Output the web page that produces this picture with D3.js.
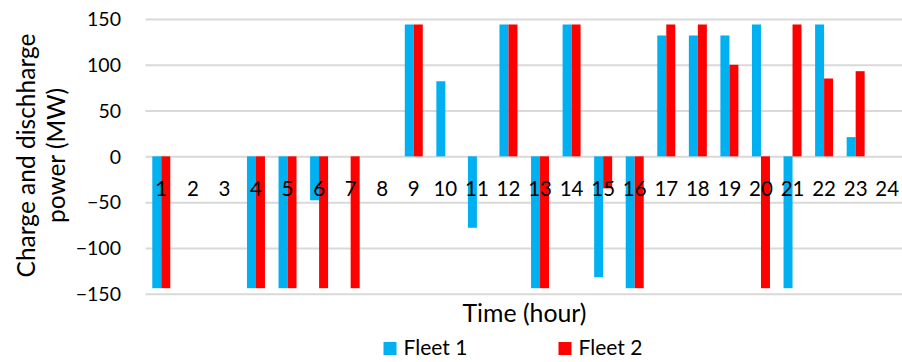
<!DOCTYPE html>
<html>
<head>
<meta charset="utf-8">
<script src="https://cdn.jsdelivr.net/npm/d3@7"></script>
<style>
  html, body { margin: 0; padding: 0; background: #fff; }
  svg { display: block; }
  text { font-family: Lato, "Open Sans", sans-serif; fill: #000; }
</style>
</head>
<body>
<svg id="chart" width="902" height="362"></svg>
<script>
const hours = ["1","2","3","4","5","6","7","8","9","10","11","12","13","14","15","16","17","18","19","20","21","22","23","24"];
const fleet1 = [-144, 0, 0, -144, -144, -48, 0, 0, 144, 82, -78, 144, -144, 144, -132, -144, 132, 132, 132, 144, -144, 144, 21, 0];
const fleet2 = [-144, 0, 0, -144, -144, -144, -144, 0, 144, 0, 0, 144, -144, 144, -35, -144, 144, 144, 100, -144, 144, 85, 93, 0];
const seriesNames = ["Fleet 1", "Fleet 2"];
const seriesColors = ["#00B0F0", "#FF0000"];
const yTicks = [-150, -100, -50, 0, 50, 100, 150];
const yTitleLines = ["Charge and dischharge", "power (MW)"];
const xTitle = "Time (hour)";

const svg = d3.select("#chart");
const plotL = 145.5, plotR = 903, plotT = 19, plotB = 293.7;

const x = d3.scaleBand().domain(hours).range([plotL, plotR]).paddingInner(0.43).paddingOuter(0.215);
const xs = d3.scaleBand().domain(seriesNames).range([0, x.bandwidth()]);
const y = d3.scaleLinear().domain([-150, 150]).range([plotB, plotT]);

function fitText(sel, target) {
  const node = sel.node();
  const size = parseFloat(sel.style("font-size"));
  const len = node.getComputedTextLength();
  if (len > 0) sel.style("font-size", (size * target / len).toFixed(2) + "px");
}

// gridlines via axis
const gAxisY = svg.append("g").attr("transform", `translate(${plotL},0)`)
  .call(d3.axisLeft(y).tickValues(yTicks).tickSizeInner(-(plotR - plotL)).tickSizeOuter(0).tickPadding(24.5));
gAxisY.select(".domain").remove();
gAxisY.selectAll(".tick line").attr("stroke", "#D9D9D9").attr("stroke-width", 2);
gAxisY.selectAll(".tick text").style("font-size", "19.5px").attr("fill", "#000").attr("dy", "0.35em")
  .style("font-family", "Lato, sans-serif");

// bars
const data = hours.map((h, i) => ({ h, vals: [fleet1[i], fleet2[i]] }));
const groups = svg.append("g").selectAll("g").data(data).join("g")
  .attr("transform", d => `translate(${x(d.h)},0)`);
groups.selectAll("rect").data(d => d.vals.map((v, k) => ({ v, k })).filter(e => e.v !== 0)).join("rect")
  .attr("x", e => xs(seriesNames[e.k]))
  .attr("width", xs.bandwidth())
  .attr("y", e => y(Math.max(0, e.v)))
  .attr("height", e => Math.abs(y(e.v) - y(0)))
  .attr("fill", e => seriesColors[e.k]);

// x axis labels (drawn over bars)
const gAxisX = svg.append("g").attr("transform", `translate(0,${y(0)})`)
  .call(d3.axisBottom(x).tickSize(0).tickPadding(0));
gAxisX.select(".domain").remove();
gAxisX.selectAll(".tick text").attr("dy", null).attr("y", 40)
  .style("font-size", "20.5px").attr("fill", "#000").style("font-family", "Lato, sans-serif");

// axis titles
const xt = svg.append("text").attr("x", 524.5).attr("y", 321.5).attr("text-anchor", "middle")
  .style("font-size", "22.5px").text(xTitle);
fitText(xt, 124);
const yt = [{ t: yTitleLines[0], bx: 34.5, cy: 155.5, len: 244 }, { t: yTitleLines[1], bx: 64.5, cy: 155.5, len: 135 }];
yt.forEach(l => {
  const t = svg.append("text").attr("transform", `translate(${l.bx},${l.cy}) rotate(-90)`)
    .attr("text-anchor", "middle").style("font-size", "21px").text(l.t);
  fitText(t, l.len);
});

// legend
const legendX = [383.5, 558.5];
const lg = svg.append("g").selectAll("g").data(seriesNames).join("g")
  .attr("transform", (d, i) => `translate(${legendX[i]},342)`);
lg.append("rect").attr("width", 13).attr("height", 13).attr("fill", (d, i) => seriesColors[i]);
lg.append("text").attr("x", 20).attr("y", 13).style("font-size", "21px").text(d => d);
</script>
</body>
</html>
